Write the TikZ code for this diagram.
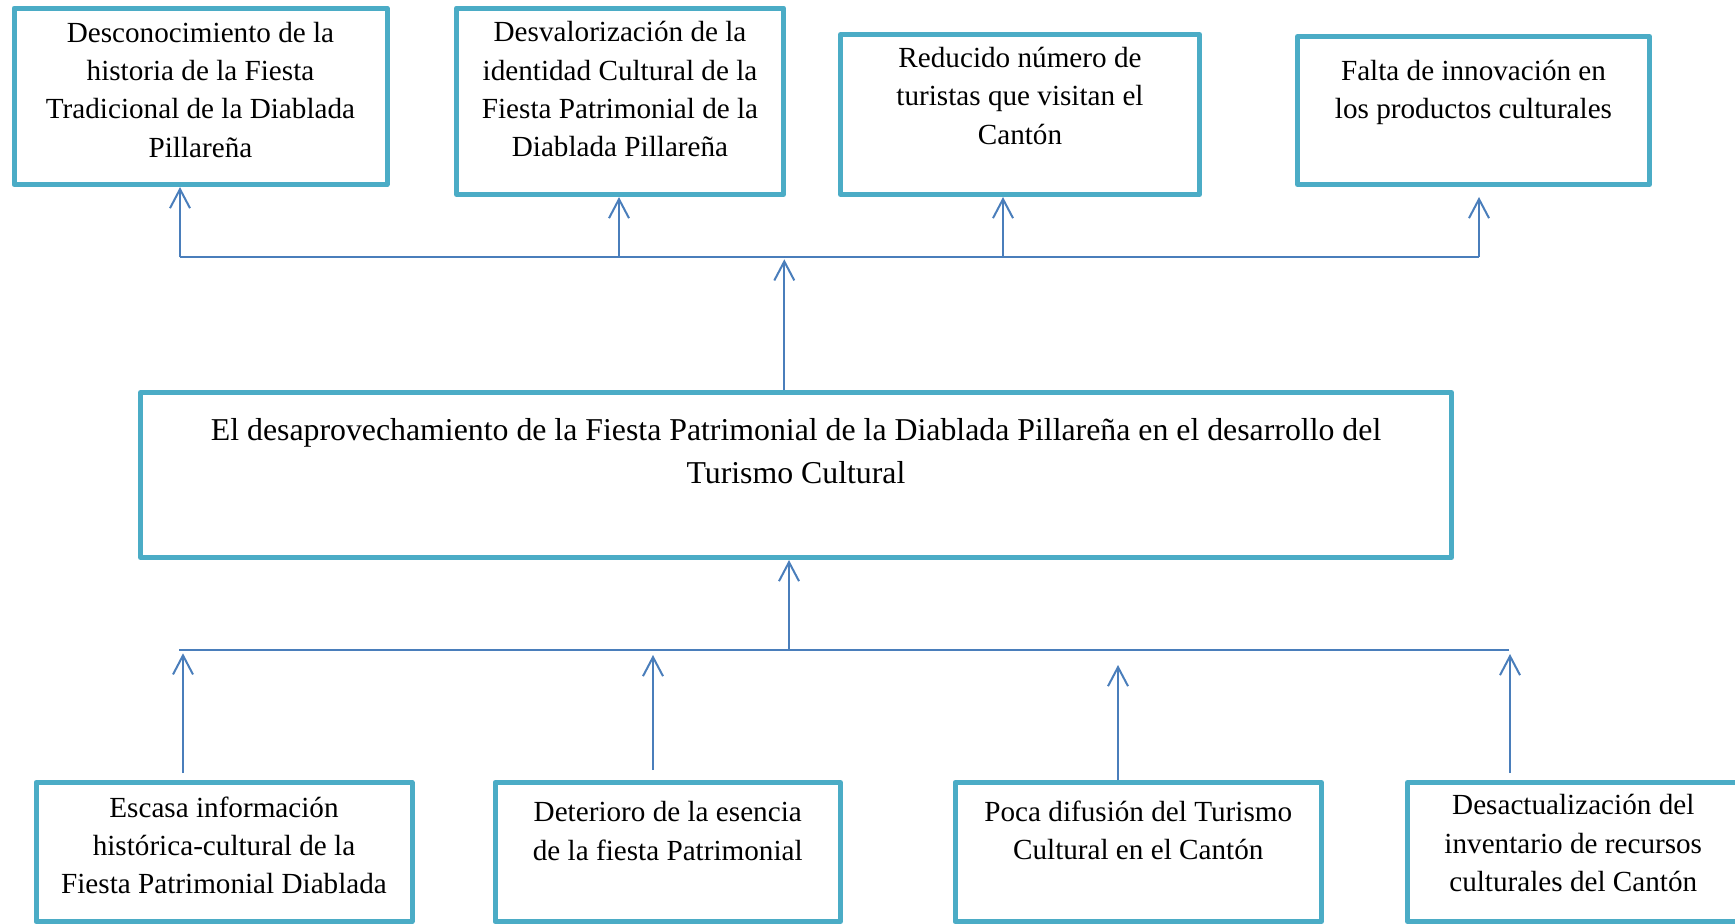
\documentclass[tikz,border=0pt]{standalone}
\usepackage{fontspec}
\setmainfont{Liberation Serif}
\usetikzlibrary{arrows.meta, positioning, calc}
\definecolor{kotak}{HTML}{4BACC6}
\definecolor{panah}{HTML}{4A7EBB}

\begin{document}
\begin{tikzpicture}
  [
  caja/.style = {rectangle, draw=kotak, line width=0.05cm, line join=round,
    inner sep=0pt},
  % texto de las cajas
  texto/.style = {inner sep=0pt, align=center,
    font=\fontsize{8.3}{10.9}\selectfont, execute at begin node=\strut},
  textogrande/.style = {texto, font=\fontsize{9.05}{12.3}\selectfont},
  % line
  linea/.style = {draw=panah, line width=0.02cm,
    -{Straight Barb[length=0.19cm, width=0.2cm]}},
  barra/.style = {draw=panah, line width=0.02cm},
  ]

  \useasboundingbox (0,0) rectangle (17.35,-9.24);
  \clip (0,0) rectangle (17.35,-9.24);

  % efectos
  \node [caja, minimum width=3.73cm, minimum height=1.765cm] (efecto1) at (2.005,-0.963) {};
  \node [caja, minimum width=3.27cm, minimum height=1.865cm] (efecto2) at (6.20,-1.013) {};
  \node [caja, minimum width=3.59cm, minimum height=1.60cm] (efecto3) at (10.20,-1.145) {};
  \node [caja, minimum width=3.52cm, minimum height=1.48cm] (efecto4) at (14.735,-1.105) {};
  \node [texto, below=0.157 of efecto1.north] (tefecto1)
  {Desconocimiento de la\\ historia de la Fiesta\\ Tradicional de la Diablada\\ Pillareña};
  \node [texto, below=0.153 of efecto2.north] (tefecto2)
  {Desvalorización de la\\ identidad Cultural de la\\ Fiesta Patrimonial de la\\ Diablada Pillareña};
  \node [texto, below=0.144 of efecto3.north] (tefecto3)
  {Reducido número de\\ turistas que visitan el\\ Cantón};
  \node [texto, below=0.251 of efecto4.north] (tefecto4)
  {Falta de innovación en\\ los productos culturales};

  % problema central
  \node [caja, minimum width=13.11cm, minimum height=1.65cm] (problema) at (7.96,-4.75) {};
  \node [textogrande, below=0.279 of problema.north] (tproblema)
  {El desaprovechamiento de la Fiesta Patrimonial de la Diablada Pillareña en el desarrollo del\\ Turismo Cultural};

  % causas
  \node [caja, minimum width=3.76cm, minimum height=1.39cm] (causa1) at (2.24,-8.52) {};
  \node [caja, minimum width=3.455cm, minimum height=1.39cm] (causa2) at (6.6775,-8.52) {};
  \node [caja, minimum width=3.665cm, minimum height=1.39cm] (causa3) at (11.3825,-8.52) {};
  \node [caja, minimum width=3.315cm, minimum height=1.39cm] (causa4) at (15.7325,-8.52) {};
  \node [texto, below=0.16 of causa1.north] (tcausa1)
  {Escasa información\\ histórica-cultural de la\\ Fiesta Patrimonial Diablada};
  \node [texto, below=0.21 of causa2.north] (tcausa2)
  {Deterioro de la esencia\\ de la fiesta Patrimonial};
  \node [texto, below=0.20 of causa3.north] (tcausa3)
  {Poca difusión del Turismo\\ Cultural en el Cantón};
  \node [texto, below=0.14 of causa4.north] (tcausa4)
  {Desactualización del\\ inventario de recursos\\ culturales del Cantón};

  % barra de arriba
  \coordinate (ea) at (1.80,-2.573);
  \coordinate (eb) at (14.79,-2.573);
  \coordinate (e2) at (6.19,-2.573);
  \coordinate (e3) at (10.03,-2.573);
  \coordinate (pa) at (7.843,-2.573);
  \path [barra] (ea) -- (eb);
  \path [linea] (ea) -- (ea |- efecto1.south);
  \path [linea] (e2) -- (e2 |- efecto2.south);
  \path [linea] (e3) -- (e3 |- efecto3.south);
  \path [linea, shorten >=0.1cm] (eb) -- (eb |- efecto4.south);
  \path [linea, shorten >=0.02cm] (pa |- problema.north) -- (pa);

  % barra de abajo
  \coordinate (ca) at (1.79,-6.50);
  \coordinate (cb) at (15.09,-6.50);
  \coordinate (pb) at (7.89,-6.50);
  \path [barra] (ca) -- (cb);
  \path [linea] (pb) -- (pb |- problema.south);
  % flechas sueltas de las causas
  \coordinate (c1) at (1.83,-6.533);
  \coordinate (c2) at (6.53,-6.55);
  \coordinate (c3) at (11.18,-6.65);
  \coordinate (c4) at (15.10,-6.54);
  \path [linea, shorten <=0.07cm] (c1 |- causa1.north) -- (c1);
  \path [linea, shorten <=0.1cm] (c2 |- causa2.north) -- (c2);
  \path [linea] (c3 |- causa3.north) -- (c3);
  \path [linea, shorten <=0.07cm] (c4 |- causa4.north) -- (c4);

\end{tikzpicture}
\end{document}
